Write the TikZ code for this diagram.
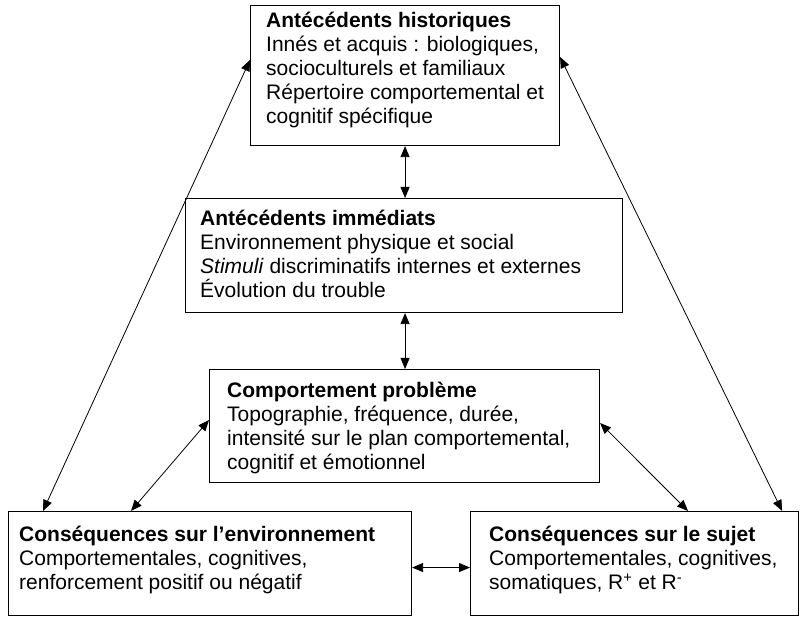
\documentclass[tikz,border=0pt]{standalone}
\usepackage{fontspec}
\setmainfont{Liberation Sans}
\usetikzlibrary{positioning}
\usetikzlibrary{arrows.meta}
\tikzset{
    % Filled triangle heads, as in the original figure
    >={Triangle[length=11pt, width=9pt]},
%
    % An empty frame of given size, placed by its top left corner
    bloc/.style={draw, line width=1.1pt, anchor=north west, inner sep=0pt},
%
    % The lines of text set inside a frame
    texte/.style={inner sep=0pt, align=left,
        font=\fontsize{21}{24}\selectfont},
%
    % Two way links between frames
    lien/.style={<->, line width=0.8pt}}

\begin{document}
\begin{tikzpicture}[x=1pt, y=-1pt]
\useasboundingbox (0,0) rectangle (801,617);

\node (hist) [bloc, minimum width=309pt, minimum height=140pt] at (250,5) {};
\node (histtexte) [texte, below right=7pt and 16pt of hist.north west]
    {\textbf{Antécédents historiques}\\
     Innés et acquis : biologiques,\\
     socioculturels et familiaux\\
     Répertoire comportemental et\\
     cognitif spécifique};

\node (imm) [bloc, minimum width=437pt, minimum height=114pt] at (185,198) {};
\node (immtexte) [texte, below right=12pt and 15pt of imm.north west]
    {\textbf{Antécédents immédiats}\\
     Environnement physique et social\\
     \textit{Stimuli} discriminatifs internes et externes\\
     Évolution du trouble};

\node (comp) [bloc, minimum width=390pt, minimum height=113pt] at (209,369) {};
\node (comptexte) [texte, below right=13pt and 18pt of comp.north west]
    {\textbf{Comportement problème}\\
     Topographie, fréquence, durée,\\
     intensité sur le plan comportemental,\\
     cognitif et émotionnel};

\node (envir) [bloc, minimum width=403pt, minimum height=104pt] at (8,511) {};
\node (envirtexte) [texte, below right=15pt and 11pt of envir.north west]
    {\textbf{Conséquences sur l’environnement}\\
     Comportementales, cognitives,\\
     renforcement positif ou négatif};

\node (sujet) [bloc, minimum width=328pt, minimum height=104pt] at (470,511) {};
\node (sujettexte) [texte, below right=15pt and 19pt of sujet.north west]
    {\textbf{Conséquences sur le sujet}\\
     Comportementales, cognitives,\\
     somatiques, R\textsuperscript{+} et R\textsuperscript{-}};

\draw [lien] (hist.south) -- (hist.south |- imm.north);
\draw [lien] (hist.south |- imm.south) -- (hist.south |- comp.north);

\draw [lien] ([yshift=-55pt]hist.north west) -- ([xshift=35pt]envir.north west);
\draw [lien] ([yshift=-52pt]hist.north east) -- ([xshift=-17pt]sujet.north east);

\draw [lien] ([yshift=-51pt]comp.north west) -- ([xshift=123pt]envir.north west);
\draw [lien] ([yshift=-54pt]comp.north east) -- ([xshift=218pt]sujet.north west);

\draw [lien] ([yshift=-4pt]envir.east) -- ([yshift=-4pt]sujet.west);

\end{tikzpicture}
\end{document}
